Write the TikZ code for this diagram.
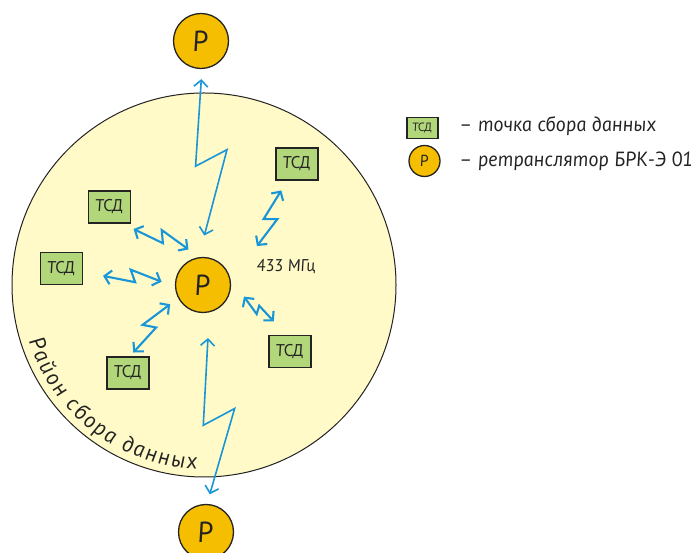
\documentclass[tikz,border=0pt]{standalone}
\usepackage{fontspec}
\newfontfamily\gost{PT Sans Italic}[FakeSlant=-0.15]
\usetikzlibrary{calc,arrows.meta,decorations.text}
\definecolor{zone}{RGB}{255,250,200}
\definecolor{relayfill}{RGB}{245,190,0}
\definecolor{tsdfill}{RGB}{178,214,122}
\definecolor{radio}{RGB}{25,150,215}
\definecolor{ink}{RGB}{35,35,35}

\begin{document}
\begin{tikzpicture}[x=1pt,y=1pt,
    >={Straight Barb[length=6.5pt,width=14pt]},
    tsd/.style={draw=ink, line width=1.3pt, fill=tsdfill, minimum width=42pt, minimum height=32pt, inner sep=0pt, text=ink, font=\gost\fontsize{17}{17}\selectfont},
    relay/.style={circle, draw=ink, line width=1.3pt, fill=relayfill, minimum size=55pt, inner sep=0pt, text=ink, font=\gost\fontsize{29}{29}\selectfont},
    label/.style={inner sep=0pt, text=ink, anchor=base west},
    link/.style={<->, draw=radio, line width=2.1pt, line join=miter},
    zap/.style 2 args={shorten <=#1pt, shorten >=#2pt,
      to path={let \p1=(\tikztostart), \p2=(\tikztotarget),
        \n1={veclen(\x2-\x1,\y2-\y1)-#1pt-#2pt} in
        -- ($(\p1)!{#1pt+0.56*\n1}!(\p2)!{0.03*\n1*1pt}!-90:(\p2)$)
        -- ($(\p1)!{#1pt+0.45*\n1}!(\p2)!{0.17*\n1*1pt}!90:(\p2)$)
        -- (\p2)}}]
    \useasboundingbox (0,0) rectangle (698,553);

    % area
    \node[circle, draw=ink, line width=1pt, fill=zone, minimum size=384pt, inner sep=0pt] (area) at (204,268) {};
    \path[decorate, decoration={text along path, text color=ink,
        text={|\gost\fontsize{22.5}{22.5}\selectfont|Район сбора данных}, text align=fit to path}]
        ($(area.center)+(198:184)$) arc[start angle=198, end angle=268, radius=184];

    % relays
    \node[relay] (p) at (203,268) {Р};
    \node[relay] (ptop) at (201,512) {Р};
    \node[relay] (pbot) at (206,21) {Р};

    % data points
    \node[tsd] (t1) at (109.5,346) {ТСД};
    \node[tsd] (t2) at (61.5,284.5) {ТСД};
    \node[tsd] (t3) at (297,389) {ТСД};
    \node[tsd] (t4) at (128,180) {ТСД};
    \node[tsd] (t5) at (290,201.5) {ТСД};

    \node[label, font=\gost\fontsize{17}{17}\selectfont] (freq) at (257,281) {433 МГц};

    % radio links
    \draw[link, zap={12.3}{13.1}] (t1.-52) to (p.98);
    \draw[link, zap={20.3}{14.3}] (t2.-9) to (p.184);
    \draw[link, zap={11.5}{43.3}] (t3.-120) to (p.9);
    \draw[link, zap={5.2}{10}] (t4.84) to (p.208);
    \draw[link, zap={18.2}{23.4}] (t5.103) to (p.15);
    \draw[link, line width=1.6pt, zap={10}{22.4}] (ptop.-88) to (p.99);
    \draw[link, line width=1.6pt, zap={25.7}{10}] (p.-77) to (pbot.88);

    % legend
    \node[tsd, minimum width=31pt, minimum height=21pt, font=\gost\fontsize{12}{12}\selectfont] (keytsd) at (422.5,425) {ТСД};
    \node[relay, minimum size=31pt, font=\gost\fontsize{16}{16}\selectfont] (keyrelay) at (424.5,392) {Р};
    \node[label, font=\gost\fontsize{20.5}{20.5}\selectfont] (keytsdtext) at (460,421) {– точка сбора данных};
    \node[label, font=\gost\fontsize{20.5}{20.5}\selectfont] (keyrelaytext) at (460,386) {– ретранслятор БРК-Э 01};
\end{tikzpicture}
\end{document}
